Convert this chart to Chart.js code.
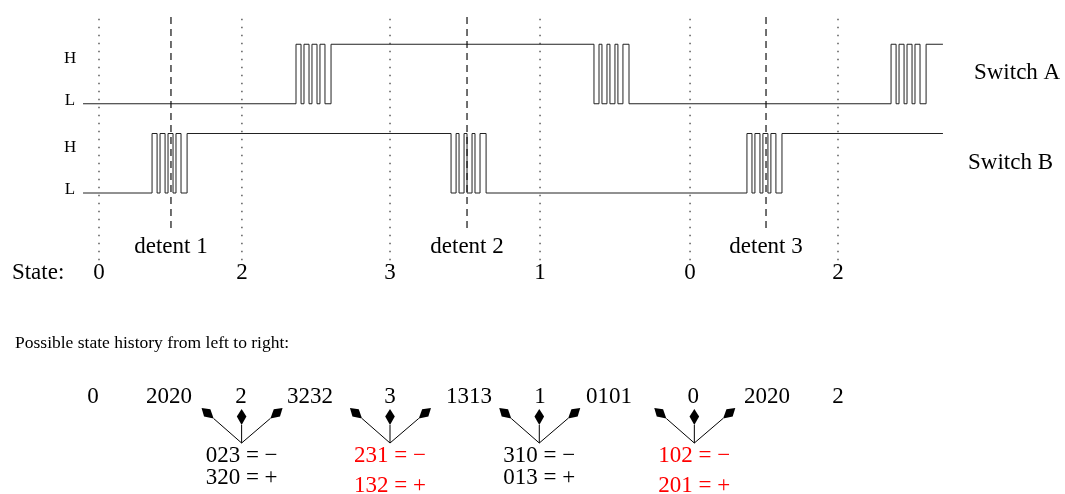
<!DOCTYPE html>
<html>
<head>
<meta charset="utf-8">
<script src="https://cdn.jsdelivr.net/npm/chart.js@4"></script>
<style>
  html, body { margin: 0; background: #fff; }
  #wrap { width: 1065px; height: 494px; position: relative; }
</style>
</head>
<body>
<div id="wrap"><canvas id="chart"></canvas></div>
<script>
// time axis: one unit ~ one state step, levels: L = 0, H = 1
const stateT = [0, 0.967, 1.969, 2.984, 3.999, 5.0];
const stateLabels = ['0', '2', '3', '1', '0', '2'];
const detentT = [0.487, 2.490, 4.513];
const detentLabels = ['detent 1', 'detent 2', 'detent 3'];

const waveStart = -0.108;
const waveEnd = 5.710;
const switchAOffset = 1.5;
// edge times (each toggles the level), contact bounce included
const switchAEdges = [
  1.333, 1.367, 1.387, 1.421, 1.441, 1.475, 1.495, 1.529, 1.570,
  3.349, 3.383, 3.403, 3.437, 3.457, 3.491, 3.511, 3.545, 3.586,
  5.359, 5.393, 5.413, 5.447, 5.467, 5.501, 5.521, 5.555, 5.596
];
const switchBEdges = [
  0.359, 0.393, 0.413, 0.447, 0.467, 0.501, 0.521, 0.555, 0.596,
  2.382, 2.416, 2.436, 2.470, 2.490, 2.524, 2.544, 2.578, 2.619,
  4.384, 4.418, 4.438, 4.472, 4.492, 4.526, 4.546, 4.580, 4.621
];

const historyLabels = ['0', '2020', '2', '3232', '3', '1313', '1', '0101', '0', '2020', '2'];
const historyT = [-0.04, 0.474, 0.961, 1.428, 1.969, 2.503, 2.984, 3.45, 4.02, 4.52, 5.0];
const groupT = [0.965, 1.969, 2.979, 4.028];
const minusLabels = ['023 = \u2212', '231 = \u2212', '310 = \u2212', '102 = \u2212'];
const plusLabels = ['320 = +', '132 = +', '013 = +', '201 = +'];
const groupColors = ['#000', '#ff0000', '#000', '#ff0000'];

function wave(edges, offset) {
  let level = 0;
  const pts = [{ x: waveStart, y: offset }];
  edges.forEach(e => {
    level = 1 - level;
    pts.push({ x: e, y: offset + level });
  });
  pts.push({ x: waveEnd, y: offset + level });
  return pts;
}

function vline(t, y0, y1, dash, color) {
  return {
    data: [{ x: t, y: y0 }, { x: t, y: y1 }],
    borderColor: color, borderWidth: 1.2, borderDash: dash,
    pointRadius: 0, stepped: false
  };
}

const datasets = [];
stateT.forEach(t => datasets.push(vline(t, -1.13, 2.96, [1.5, 6.5], '#333')));
detentT.forEach(t => datasets.push(vline(t, -0.59, 2.99, [7, 5], '#111')));
datasets.push({ data: wave(switchAEdges, switchAOffset), borderColor: '#222', borderWidth: 1, pointRadius: 0, stepped: true });
datasets.push({ data: wave(switchBEdges, 0), borderColor: '#222', borderWidth: 1, pointRadius: 0, stepped: true });

const SERIF = '"Liberation Serif", "Times New Roman", serif';

const annotations = {
  id: 'annotations',
  afterDatasetsDraw(chart) {
    const { ctx } = chart;
    const xs = chart.scales.x, ys = chart.scales.y;
    const px = t => xs.getPixelForValue(t);
    const py = v => ys.getPixelForValue(v);

    function text(str, t, v, size, align, color) {
      ctx.font = size + 'px ' + SERIF;
      ctx.textAlign = align;
      ctx.textBaseline = 'alphabetic';
      ctx.fillStyle = color || '#000';
      ctx.fillText(str, px(t), py(v));
    }

    function arrow(x0, y0, x1, y1) {
      const dx = x1 - x0, dy = y1 - y0, len = Math.hypot(dx, dy);
      const ux = dx / len, uy = dy / len;
      const bx = x1 - ux * 16, by = y1 - uy * 16;
      const mx = x1 - ux * 7.5, my = y1 - uy * 7.5;
      ctx.strokeStyle = '#000';
      ctx.lineWidth = 1;
      ctx.beginPath();
      ctx.moveTo(x0, y0);
      ctx.lineTo(bx, by);
      ctx.stroke();
      ctx.fillStyle = '#000';
      ctx.beginPath();
      ctx.moveTo(x1, y1);
      ctx.lineTo(mx - uy * 4.8, my + ux * 4.8);
      ctx.lineTo(bx, by);
      ctx.lineTo(mx + uy * 4.8, my - ux * 4.8);
      ctx.closePath();
      ctx.fill();
    }

    ctx.save();
    // level labels
    [switchAOffset, 0].forEach(off => {
      text('H', -0.196, off + 0.685, 17, 'center');
      text('L', -0.196, off - 0.025, 17, 'center');
    });
    text('Switch A', 5.920, 1.908, 23, 'left');
    text('Switch B', 5.880, 0.395, 23, 'left');

    detentT.forEach((t, i) => text(detentLabels[i], t, -1.008, 23, 'center'));
    text('State:', -0.589, -1.445, 23, 'left');
    stateT.forEach((t, i) => text(stateLabels[i], t, -1.445, 23, 'center'));

    text('Possible state history from left to right:', -0.568, -2.605, 17.5, 'left');
    historyT.forEach((t, i) => text(historyLabels[i], t, -3.521, 23, 'center'));

    groupT.forEach((t, i) => {
      const ox = px(t), oy = py(-4.202);
      arrow(ox, oy, px(t - 0.271), py(-3.613));
      arrow(ox, oy, px(t), py(-3.630));
      arrow(ox, oy, px(t + 0.277), py(-3.613));
      const red = groupColors[i] !== '#000';
      text(minusLabels[i], t, -4.516, 23, 'center', groupColors[i]);
      text(plusLabels[i], t, red ? -5.025 : -4.891, 23, 'center', groupColors[i]);
    });
    ctx.restore();
  }
};

new Chart(document.getElementById('chart'), {
  type: 'line',
  data: { datasets },
  options: {
    responsive: true,
    maintainAspectRatio: false,
    animation: false,
    layout: { padding: 0 },
    plugins: { legend: { display: false }, tooltip: { enabled: false } },
    scales: {
      x: { type: 'linear', min: -0.6698, max: 6.5359, display: false },
      y: { type: 'linear', min: -5.0588, max: 3.2437, display: false }
    }
  },
  plugins: [annotations]
});
</script>
</body>
</html>
